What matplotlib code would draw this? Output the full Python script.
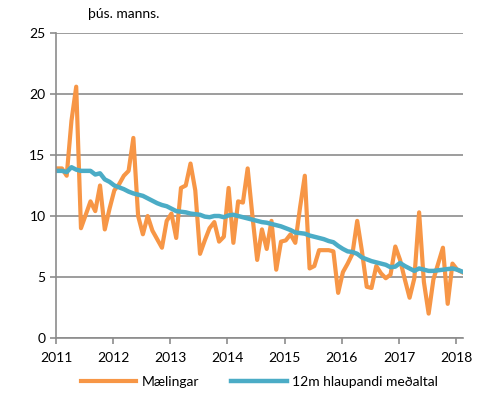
import numpy as np
import matplotlib
matplotlib.use('Agg')
import matplotlib.pyplot as plt

plt.rcParams['font.family'] = ['Lato', 'DejaVu Sans']

# Mánaðarleg gögn, jan 2011 - feb 2018 (þús. manns)
start_year = 2011
maelingar = [
    13.9, 13.9, 13.3, 17.8, 20.6, 9.0, 10.1, 11.2, 10.4, 12.5, 8.9, 10.6,   # 2011
    12.1, 12.6, 13.3, 13.7, 16.4, 10.0, 8.5, 10.0, 8.8, 8.1, 7.4, 9.6,      # 2012
    10.2, 8.2, 12.3, 12.5, 14.3, 12.1, 6.9, 8.0, 9.0, 9.5, 7.9, 8.3,        # 2013
    12.3, 7.8, 11.2, 11.1, 13.9, 10.0, 6.4, 8.9, 7.3, 9.6, 5.6, 7.9,        # 2014
    8.0, 8.5, 7.8, 10.7, 13.3, 5.7, 5.9, 7.2, 7.2, 7.2, 7.1, 3.7,           # 2015
    5.4, 6.1, 6.9, 9.6, 7.1, 4.2, 4.1, 5.9, 5.3, 4.9, 5.2, 7.5,             # 2016
    6.4, 4.8, 3.3, 4.9, 10.3, 4.6, 2.0, 4.8, 6.1, 7.4, 2.8, 6.1,            # 2017
    5.6, 5.4,                                                               # 2018
]
medaltal = [
    13.7, 13.7, 13.6, 14.0, 13.8, 13.7, 13.7, 13.7, 13.4, 13.5, 13.0, 12.8,
    12.5, 12.35, 12.2, 12.0, 11.85, 11.75, 11.65, 11.45, 11.25, 11.05, 10.9, 10.8,
    10.6, 10.4, 10.35, 10.3, 10.2, 10.15, 10.1, 9.95, 9.9, 10.0, 10.0, 9.9,
    10.05, 10.1, 10.0, 9.9, 9.8, 9.7, 9.6, 9.5, 9.45, 9.35, 9.25, 9.15,
    9.0, 8.85, 8.65, 8.6, 8.55, 8.4, 8.3, 8.2, 8.1, 7.95, 7.85, 7.55,
    7.3, 7.1, 7.05, 6.9, 6.6, 6.45, 6.3, 6.2, 6.1, 6.0, 5.8, 5.85,
    6.15, 5.9, 5.7, 5.5, 5.7, 5.6, 5.5, 5.5, 5.55, 5.6, 5.65, 5.7,
    5.6, 5.45,
]
ar = list(range(2011, 2019))
y_ticks = [0, 5, 10, 15, 20, 25]

x = start_year + np.arange(len(maelingar)) / 12 + 0.02

fig = plt.figure(figsize=(4.85, 4.0), dpi=100)
ax = fig.add_axes([0.1155, 0.155, 0.839, 0.7625])

grey = '#8c8c8c'
ax.plot(x, maelingar, color='#F79646', linewidth=3.0, label='Mælingar', solid_joinstyle='round')
ax.plot(x, medaltal, color='#4BACC6', linewidth=3.2, label='12m hlaupandi meðaltal')

ax.set_xlim(2011, 2018.12)
ax.set_ylim(0, 25)
ax.set_xticks(ar)
ax.set_xticklabels([str(a) for a in ar])
ax.set_yticks(y_ticks)
ax.yaxis.grid(True, color=grey, linewidth=1.2)
ax.set_axisbelow(True)
for s in ['top', 'right']:
    ax.spines[s].set_visible(False)
for s in ['left', 'bottom']:
    ax.spines[s].set_color(grey)
    ax.spines[s].set_linewidth(1.2)
ax.tick_params(axis='both', colors=grey, width=1.2, length=4, labelsize=10, labelcolor='black')
ax.tick_params(axis='x', pad=6)

fig.text(0.256, 0.965, 'þús. manns.', fontsize=10, ha='center', va='center')

fig.legend(loc='lower center', bbox_to_anchor=(0.535, 0.0), ncol=2, frameon=False,
           fontsize=10, handlelength=4, handletextpad=0.4, columnspacing=2.3)

fig.savefig('out.png', dpi=100)
